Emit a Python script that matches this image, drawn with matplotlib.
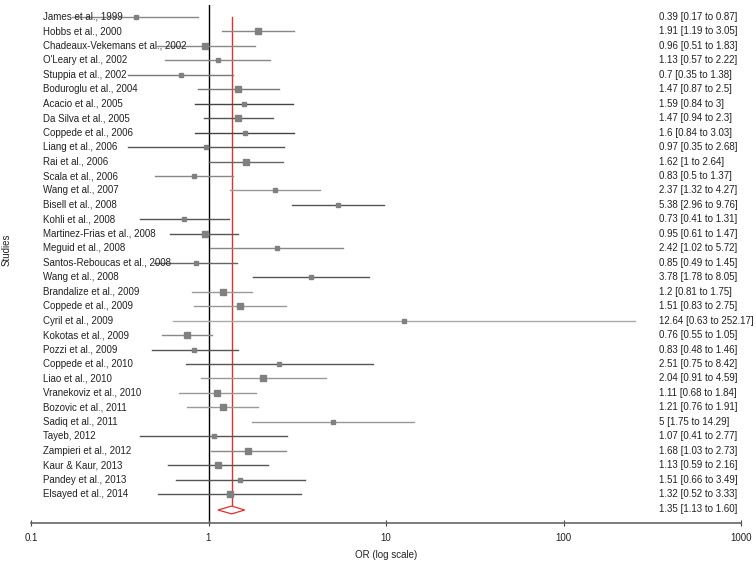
import matplotlib.pyplot as plt
import numpy as np

plt.rcParams['font.family'] = ['Liberation Sans', 'DejaVu Sans']

# Исследования и отношения шансов (OR) с 95% ДИ
studies = ['James et al., 1999', 'Hobbs et al., 2000', 'Chadeaux-Vekemans et al., 2002',
           "O'Leary et al., 2002", 'Stuppia et al., 2002', 'Boduroglu et al., 2004',
           'Acacio et al., 2005', 'Da Silva et al., 2005', 'Coppede et al., 2006',
           'Liang et al., 2006', 'Rai et al., 2006', 'Scala et al., 2006',
           'Wang et al., 2007', 'Bisell et al., 2008', 'Kohli et al., 2008',
           'Martinez-Frias et al., 2008', 'Meguid et al., 2008', 'Santos-Reboucas et al., 2008',
           'Wang et al., 2008', 'Brandalize et al., 2009', 'Coppede et al., 2009',
           'Cyril et al., 2009', 'Kokotas et al., 2009', 'Pozzi et al., 2009',
           'Coppede et al., 2010', 'Liao et al., 2010', 'Vranekoviz et al., 2010',
           'Bozovic et al., 2011', 'Sadiq et al., 2011', 'Tayeb, 2012',
           'Zampieri et al., 2012', 'Kaur & Kaur, 2013', 'Pandey et al., 2013',
           'Elsayed et al., 2014']
odds = [0.39, 1.91, 0.96, 1.13, 0.7, 1.47, 1.59, 1.47, 1.6, 0.97, 1.62, 0.83,
        2.37, 5.38, 0.73, 0.95, 2.42, 0.85, 3.78, 1.2, 1.51, 12.64, 0.76, 0.83,
        2.51, 2.04, 1.11, 1.21, 5, 1.07, 1.68, 1.13, 1.51, 1.32]
low = [0.17, 1.19, 0.51, 0.57, 0.35, 0.87, 0.84, 0.94, 0.84, 0.35, 1, 0.5,
       1.32, 2.96, 0.41, 0.61, 1.02, 0.49, 1.78, 0.81, 0.83, 0.63, 0.55, 0.48,
       0.75, 0.91, 0.68, 0.76, 1.75, 0.41, 1.03, 0.59, 0.66, 0.52]
high = [0.87, 3.05, 1.83, 2.22, 1.38, 2.5, 3, 2.3, 3.03, 2.68, 2.64, 1.37,
        4.27, 9.76, 1.31, 1.47, 5.72, 1.45, 8.05, 1.75, 2.75, 252.17, 1.05, 1.46,
        8.42, 4.59, 1.84, 1.91, 14.29, 2.77, 2.73, 2.16, 3.49, 3.33]
# Относительный вес (размер квадрата): 1 - малый, 2 - средний, 3 - большой
weight = [1, 3, 2, 1, 1, 2, 1, 3, 1, 1, 3, 1, 1, 1, 1, 3, 1, 1, 1, 3, 2, 1, 3, 1,
          1, 2, 2, 3, 1, 1, 3, 2, 1, 2]
pooled = 1.35
pooled_low = 1.13
pooled_high = 1.60
pooled_text = '1.35 [1.13 to 1.60]'

fig = plt.figure(figsize=(7.56, 5.67), dpi=100)
ax = fig.add_axes([31/756, 1-523/567, 710/756, 518/567])
ax.set_xscale('log')
ax.set_xlim(0.1, 1000)
ax.set_ylim(35.0, -0.83)

line_cols = ['#888888', '#888888', '#888888', '#888888', '#777777', '#777777',
             '#444444', '#555555', '#444444', '#555555', '#666666', '#888888',
             '#999999', '#555555', '#555555', '#555555', '#888888', '#666666',
             '#555555', '#999999', '#999999', '#aaaaaa', '#888888', '#555555',
             '#555555', '#999999', '#999999', '#999999', '#999999', '#555555',
             '#888888', '#555555', '#555555', '#555555']
msize = {1: 3.0, 2: 3.7, 3: 4.6}

n = len(studies)
yd = n + 0.1  # позиция ромба
dy = 0.27

ax.axvline(1, color='black', lw=1.0, zorder=1)
ax.plot([pooled, pooled], [0, yd - dy], color='#e03030', lw=1.0, zorder=1)

trans = ax.get_yaxis_transform()
for i in range(n):
    ax.plot([low[i], high[i]], [i, i], color=line_cols[i], lw=1.0, zorder=2)
    ax.plot(odds[i], i, marker='s', ms=msize[weight[i]], color='#808080',
            mec='#808080', zorder=3)
    ax.text(0.0169, i, studies[i], transform=trans,
            fontsize=7, color='#222222', va='center', ha='left', zorder=4)
    ax.text(0.8845, i, f'{odds[i]:g} [{low[i]:g} to {high[i]:g}]', transform=trans,
            fontsize=7, color='#222222', va='center', ha='left')

# Ромб суммарной оценки
ax.fill([pooled_low, pooled, pooled_high, pooled], [yd, yd - dy, yd, yd + dy],
        facecolor='white', edgecolor='#e03030', lw=0.9, zorder=3)
ax.text(0.8845, yd - 0.1, pooled_text, transform=trans, fontsize=7,
        color='#222222', va='center', ha='left')

for s in ['top', 'right', 'left']:
    ax.spines[s].set_visible(False)
ax.spines['bottom'].set_color('#666666')
ax.spines['bottom'].set_linewidth(1.2)
ax.set_yticks([])
ax.set_xticks([0.1, 1, 10, 100, 1000], ['0.1', '1', '10', '100', '1000'])
ax.minorticks_off()
ax.tick_params(axis='x', direction='inout', length=5, width=0.8, color='#444444',
               labelsize=7, labelcolor='#222222', pad=5)
ax.set_xlabel('OR (log scale)', fontsize=7, color='#222222', labelpad=5)
fig.text(7/756, 1-250/567, 'Studies', rotation=90, fontsize=7, color='#222222',
         va='center', ha='center')

fig.savefig('out.png', dpi=100)
